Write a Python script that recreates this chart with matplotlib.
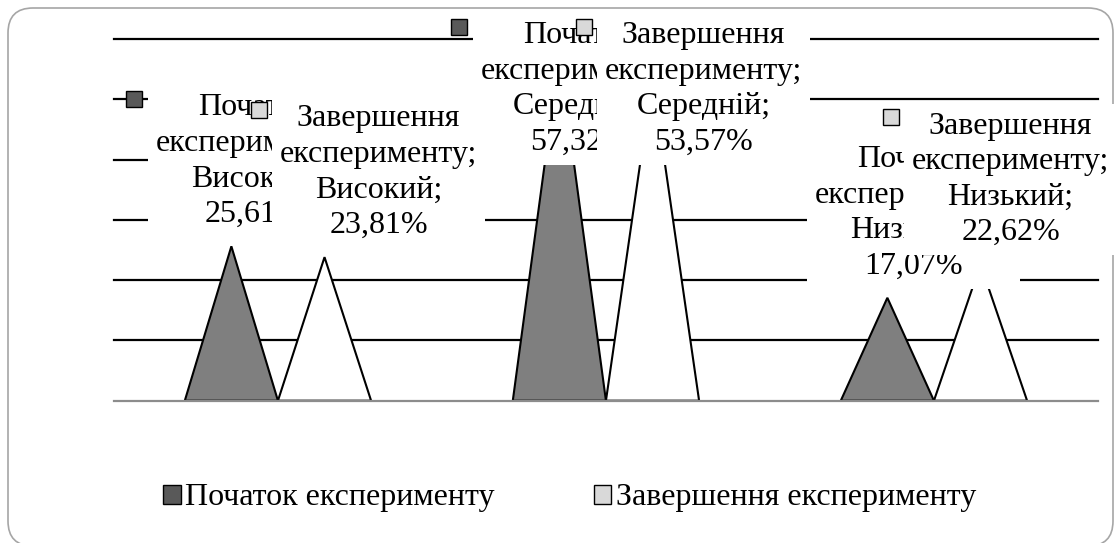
import matplotlib
matplotlib.use('Agg')
import matplotlib.pyplot as plt
import matplotlib.transforms as mtransforms
from matplotlib.patches import FancyBboxPatch, Patch

plt.rcParams['font.family'] = ['Liberation Serif', 'DejaVu Serif']

# data
levels = ['Високий', 'Середній', 'Низький']
series_names = ['Початок експерименту', 'Завершення експерименту']
start_vals = [25.61, 57.32, 17.07]
end_vals = [23.81, 53.57, 22.62]

# layout (pixel offsets of the data labels from the cone tips)
label_dx_start = [23, 20, 26]
label_dx_end = [54, 51, 30]
label_cap = 37.6
half_w = 0.142
fs = 23


def label_text(series, level, v):
    words = series.split()
    return f'{words[0]}\n{words[1]};\n{level};\n' + f'{v:.2f}'.replace('.', ',') + '%'


fig = plt.figure(figsize=(11.15, 5.43), dpi=100)

# rounded frame around the chart
frame = FancyBboxPatch((0.08, -0.03), 11.05, 5.38, boxstyle='round,pad=0,rounding_size=0.25',
                       transform=fig.dpi_scale_trans, fc='none', ec='#a6a6a6', lw=1.2, zorder=-1)
fig.patches.append(frame)

ax = fig.add_axes([0.1022, 0.2621, 0.8825, 0.6661])
ax.set_xlim(-0.5, 2.5)
ax.set_ylim(0, 60)
ax.patch.set_alpha(0)
ax.set_yticks(range(10, 61, 10))
ax.set_xticks([])
ax.tick_params(length=0, labelleft=False)
ax.yaxis.grid(True, color='black', lw=1.6, zorder=1)
for gl in ax.get_ygridlines():
    gl.set_clip_on(False)
for s in ['top', 'left', 'right']:
    ax.spines[s].set_visible(False)
ax.spines['bottom'].set_color('#8c8c8c')
ax.spines['bottom'].set_linewidth(1.6)
ax.set_axisbelow(True)

colors = ['#7f7f7f', 'white']
key_colors = ['#595959', '#d9d9d9']
series = [start_vals, end_vals]
dxs = [label_dx_start, label_dx_end]

for k, vals in enumerate(series):
    for i, v in enumerate(vals):
        xc = i - half_w if k == 0 else i + half_w
        ax.fill([xc - half_w, xc, xc + half_w], [0, v, 0], fc=colors[k], ec='black', lw=1.5, zorder=2)

for k, vals in enumerate(series):
    z = 4 + 2 * k
    for i, v in enumerate(vals):
        xc = i - half_w if k == 0 else i + half_w
        y = min(v, label_cap)
        ax.annotate(label_text(series_names[k], levels[i], v), xy=(xc, y),
                    xytext=(dxs[k][i], 17), textcoords='offset pixels',
                    ha='center', va='bottom', fontsize=fs, linespacing=1.3,
                    bbox=dict(fc='white', ec='none', boxstyle='square,pad=0.25'),
                    zorder=z, annotation_clip=False)
        tr = mtransforms.offset_copy(ax.transData, fig=fig, x=dxs[k][i] - 120, y=147, units='dots')
        ax.plot([xc], [y], marker='s', ms=11, mfc=key_colors[k], mec='black', mew=1,
                transform=tr, clip_on=False, zorder=z + 1)

handles = [Patch(fc=key_colors[0], ec='black'), Patch(fc=key_colors[1], ec='black')]
fig.legend(handles, series_names, loc='center', bbox_to_anchor=(0.511, 0.083), ncol=2,
           frameon=False, fontsize=23, handlelength=0.55, handleheight=0.55,
           handletextpad=0.15, columnspacing=3.1)

fig.savefig('out.png', dpi=100)
